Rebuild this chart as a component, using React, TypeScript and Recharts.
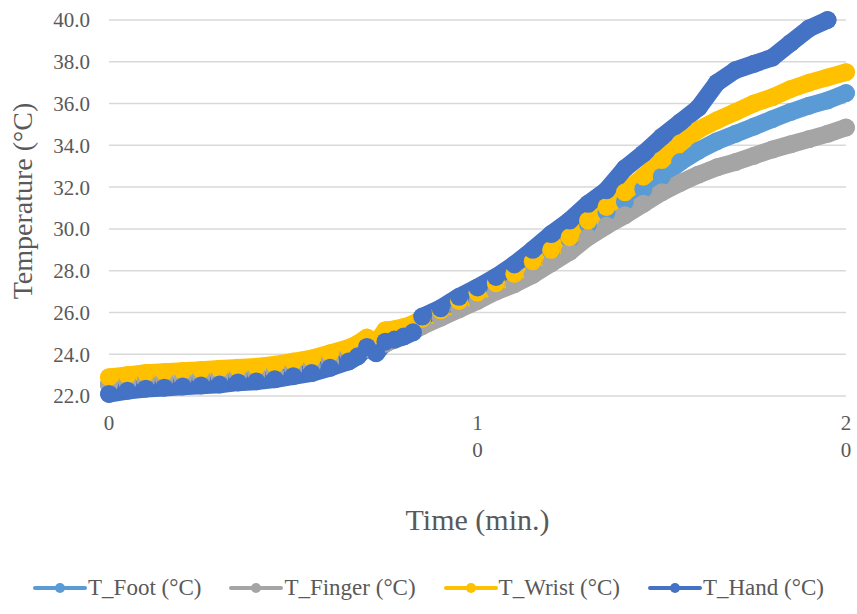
import React from 'react';
import { LineChart, Line, XAxis, YAxis, CartesianGrid } from 'recharts';

const times = [
  0, 0.5, 1, 1.5, 2, 2.5, 3, 3.5, 4, 4.5, 5, 5.5, 6,
  6.5, 6.75, 7, 7.25, 7.5, 7.75, 8, 8.25, 8.5,
  9, 9.5, 10, 10.5, 11, 11.5, 12, 12.5, 13, 13.5, 14, 14.5, 15,
  15.5, 16, 16.5, 17, 17.5, 18, 18.5, 19, 19.5, 20,
];

const footTemp = [
  22.55, 22.65, 22.75, 22.8, 22.85, 22.9, 22.95, 23.0, 23.05, 23.15, 23.3, 23.45, 23.7,
  24.0, 24.2, 24.4, 24.4, 24.75, 24.9, 25.05, 25.25, 25.5,
  26.0, 26.5, 26.95, 27.4, 27.85, 28.4, 28.95, 29.5, 30.2, 30.8, 31.3, 31.9, 32.5,
  33.2, 33.75, 34.2, 34.55, 34.9, 35.25, 35.6, 35.9, 36.15, 36.5,
];

const fingerTemp = [
  22.55, 22.65, 22.75, 22.8, 22.85, 22.9, 22.95, 23.0, 23.05, 23.15, 23.3, 23.45, 23.65,
  23.95, 24.1, 24.25, 24.3, 24.5, 24.7, 24.9, 25.1, 25.35,
  25.75, 26.15, 26.55, 27.0, 27.35, 27.8, 28.35, 28.9, 29.6, 30.15, 30.65, 31.2, 31.75,
  32.2, 32.6, 32.95, 33.2, 33.5, 33.8, 34.05, 34.3, 34.55, 34.85,
];

const wristTemp = [
  22.9, 23.0, 23.1, 23.15, 23.2, 23.25, 23.3, 23.35, 23.4, 23.5, 23.65, 23.8, 24.05,
  24.3, 24.5, 24.8, 24.55, 25.15, 25.2, 25.3, 25.45, 25.7,
  26.1, 26.55, 26.95, 27.4, 27.85, 28.45, 29.0, 29.6, 30.4, 31.05, 31.75, 32.5, 33.3,
  34.1, 34.75, 35.2, 35.6, 36.0, 36.3, 36.7, 37.0, 37.25, 37.5,
];

const handTemp = [
  22.1, 22.25, 22.35, 22.4, 22.45, 22.5, 22.55, 22.65, 22.7, 22.8, 22.95, 23.1, 23.35,
  23.65, 23.9, 24.35, 24.05, 24.6, 24.7, 24.85, 25.05, 25.8,
  26.2, 26.75, 27.2, 27.7, 28.3, 29.0, 29.75, 30.4, 31.2, 31.85, 32.9, 33.6, 34.4,
  35.1, 35.8, 37.0, 37.6, 37.9, 38.2, 38.9, 39.6, 40.0, null,
];

const xTicks = [0, 10, 20];
const yTicks = [22, 24, 26, 28, 30, 32, 34, 36, 38, 40];

const seriesNames = ['T_Foot (°C)', 'T_Finger (°C)', 'T_Wrist (°C)', 'T_Hand (°C)'];
const seriesKeys = ['foot', 'finger', 'wrist', 'hand'];
const seriesColors = ['#5B9BD5', '#A5A5A5', '#FFC000', '#4472C4'];

const data = times.map((t, i) => ({
  t,
  foot: footTemp[i],
  finger: fingerTemp[i],
  wrist: wristTemp[i],
  hand: handTemp[i],
}));

const FONT = '"Liberation Serif", "Times New Roman", serif';
const TEXT = '#595959';

// excel wrapped the tick labels one digit per line
const TimeTick = ({ x, y, payload }: any) => {
  const chars = String(payload.value).split('');
  return (
    <text x={x} y={y} textAnchor="middle" fill={TEXT} fontSize={21} fontFamily={FONT}>
      {chars.map((c, i) => (
        <tspan key={`c-${i}`} x={x} dy={i === 0 ? '0.71em' : 27}>{c}</tspan>
      ))}
    </text>
  );
};

const YTitle = ({ viewBox }: any) => {
  const cx = 22;
  const cy = viewBox.y + viewBox.height / 2 - 7;
  return (
    <text x={cx} y={cy} textAnchor="middle" dominantBaseline="central" fill={TEXT}
      fontSize={28} fontFamily={FONT} transform={`rotate(-90, ${cx}, ${cy})`}>
      Temperature (°C)
    </text>
  );
};

export default function App() {
  return (
    <div style={{ position: 'absolute', left: 0, top: 0, width: 857, height: 614, background: '#fff' }}>
      <LineChart width={857} height={614} data={data} margin={{ top: 20, right: 11, left: 0, bottom: 78 }}>
        <CartesianGrid vertical={false} stroke="#D9D9D9" strokeWidth={1.5} />
        <XAxis
          dataKey="t"
          type="number"
          domain={[0, 20]}
          ticks={xTicks}
          height={140}
          axisLine={false}
          tickLine={false}
          tickSize={0}
          tickMargin={19}
          tick={<TimeTick />}
          interval={0}
          label={{ value: 'Time (min.)', position: 'insideBottom', offset: 6, fill: TEXT, fontSize: 30, fontFamily: FONT }}
        />
        <YAxis
          domain={[22, 40]}
          ticks={yTicks}
          width={109}
          axisLine={false}
          tickLine={false}
          tickSize={0}
          tickMargin={19}
          tickFormatter={(v: number) => v.toFixed(1)}
          tick={{ fill: TEXT, fontSize: 21, fontFamily: FONT }}
          label={<YTitle />}
        />
        {seriesKeys.map((k, i) => (
          <Line
            key={k}
            type="linear"
            dataKey={k}
            stroke={seriesColors[i]}
            strokeWidth={17.5}
            strokeLinejoin="round"
            strokeLinecap="round"
            dot={{ r: 9, fill: seriesColors[i], stroke: 'none' }}
            isAnimationActive={false}
          />
        ))}
      </LineChart>
      <div style={{
        position: 'absolute', top: 575, left: 0, width: 857, display: 'flex',
        justifyContent: 'center', gap: 28, fontFamily: FONT, fontSize: 23, color: TEXT,
      }}>
        {seriesNames.map((name, i) => (
          <div key={name} style={{ display: 'flex', alignItems: 'center' }}>
            <svg width={54} height={14} style={{ marginRight: 1 }}>
              <line x1={2} y1={7} x2={52} y2={7} stroke={seriesColors[i]} strokeWidth={4} strokeLinecap="round" />
              <circle cx={27} cy={7} r={5} fill={seriesColors[i]} />
            </svg>
            <span style={{ lineHeight: '26px' }}>{name}</span>
          </div>
        ))}
      </div>
    </div>
  );
}
